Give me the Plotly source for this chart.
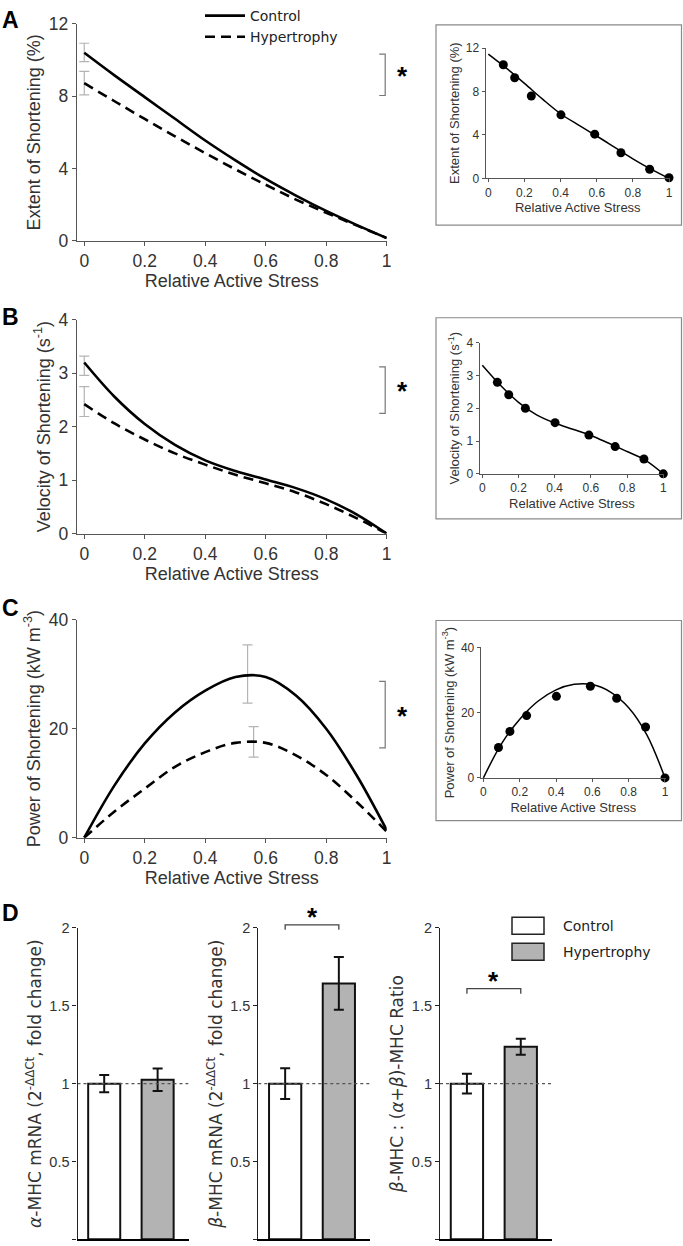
import plotly.graph_objects as go

W, H = 683, 1246

# ---------------- data ----------------
stress = [0.0, 0.1, 0.2, 0.3, 0.4, 0.5, 0.6, 0.7, 0.8, 0.9, 1.0]
extent_control = [10.40, 9.15, 7.95, 6.75, 5.55, 4.45, 3.42, 2.50, 1.65, 0.88, 0.15]
extent_hyper = [8.72, 7.72, 6.74, 5.78, 4.85, 3.95, 3.10, 2.28, 1.55, 0.85, 0.15]
velocity_control = [3.20, 2.56, 2.05, 1.66, 1.37, 1.17, 1.01, 0.85, 0.64, 0.36, 0.0]
velocity_hyper = [2.42, 2.06, 1.76, 1.50, 1.29, 1.10, 0.94, 0.77, 0.55, 0.29, 0.0]
power_control = [0.0, 9.6, 17.3, 23.0, 27.0, 29.5, 29.5, 26.1, 20.0, 11.5, 1.4]
power_hyper = [0.0, 4.8, 9.0, 13.0, 15.7, 17.4, 17.4, 15.1, 11.5, 6.6, 1.1]

# mean +/- SD markers on main panels (x position, mean, sd) : control, hypertrophy
extent_err_x = [0.0, 0.0]
extent_err_mean = [10.42, 8.72]
extent_err_sd = [0.51, 0.65]
velocity_err_x = [0.0, 0.0]
velocity_err_mean = [3.14, 2.47]
velocity_err_sd = [0.18, 0.28]
power_err_x = [0.54, 0.56]
power_err_mean = [30.05, 17.6]
power_err_sd = [5.35, 2.8]

# significance brackets (upper, lower) on main panels
extent_sig = [10.33, 8.04]
velocity_sig = [3.12, 2.25]
power_sig = [28.7, 16.5]

# insets: example data + fit
inset_stress = [0.083, 0.146, 0.238, 0.402, 0.589, 0.734, 0.893, 1.0]
inset_extent = [10.47, 9.27, 7.59, 5.85, 4.07, 2.36, 0.83, 0.05]
inset_velocity = [2.79, 2.41, 2.00, 1.56, 1.18, 0.83, 0.45, 0.0]
inset_power = [9.3, 14.25, 19.1, 25.0, 28.1, 24.4, 15.6, 0.0]
fit_extent = [11.45, 10.15, 8.75, 7.30, 5.95, 4.90, 3.90, 2.85, 1.80, 0.85, 0.0]
fit_velocity = [3.31, 2.70, 2.18, 1.80, 1.55, 1.36, 1.17, 0.93, 0.68, 0.42, 0.0]
fit_power = [0.0, 10.5, 18.0, 23.5, 27.0, 28.7, 28.6, 26.3, 21.5, 13.2, 0.0]

# panel D
groups = ["Control", "Hypertrophy"]
alpha_mhc = [1.0, 1.025]
alpha_mhc_err = [0.056, 0.072]
beta_mhc = [1.0, 1.644]
beta_mhc_err = [0.099, 0.170]
beta_ratio = [1.0, 1.237]
beta_ratio_err = [0.063, 0.052]
beta_sig = 2.02
ratio_sig = 1.61

x_ticks = [0, 0.2, 0.4, 0.6, 0.8, 1]
x_ticktext = ["0", "0.2", "0.4", "0.6", "0.8", "1"]

# ---------------- axes geometry (px boxes: left, right, top, bottom) ----------------
AX = {
    "1": dict(box=(76.7, 386.7, 19.0, 236.7), xr=[-0.025, 1.0], yr=[0, 12]),
    "2": dict(box=(76.7, 386.7, 316.0, 530.7), xr=[-0.025, 1.0], yr=[0, 4]),
    "3": dict(box=(76.7, 386.7, 617.3, 836.0), xr=[-0.025, 1.0], yr=[0, 40]),
    "4": dict(box=(485.6, 669.9, 43.3, 174.0), xr=[-0.015, 1.005], yr=[0, 12]),
    "5": dict(box=(479.6, 664.2, 339.0, 470.7), xr=[-0.015, 1.005], yr=[0, 4]),
    "6": dict(box=(480.7, 665.9, 645.0, 776.0), xr=[-0.015, 1.005], yr=[0, 40]),
    "7": dict(box=(77.5, 188.6, 926.7, 1239.3), xr=[0.5, 2.58], yr=[0, 2]),
    "8": dict(box=(258.3, 370.0, 926.7, 1239.3), xr=[0.5, 2.58], yr=[0, 2]),
    "9": dict(box=(440.0, 552.0, 926.7, 1239.3), xr=[0.5, 2.58], yr=[0, 2]),
}


def to_px(k, xv, yv):
    L, R, T, B = AX[k]["box"]
    x0, x1 = AX[k]["xr"]
    y0, y1 = AX[k]["yr"]
    return L + (xv - x0) / (x1 - x0) * (R - L), B - (yv - y0) / (y1 - y0) * (B - T)


def pp(x, y):
    return x / W, 1 - y / H


def ref(k):
    return ("x" if k == "1" else "x" + k), ("y" if k == "1" else "y" + k)


fig = go.Figure()

MAIN_FONT = "Liberation Sans, Arial, sans-serif"
LEG_FONT = "DejaVu Sans, Verdana, sans-serif"
TXT = "#333333"
GRAY_ERR = "#b4b4b4"
DASH = "10px,6px"

# ---------------- main panels ----------------
main = [
    ("1", extent_control, extent_hyper, extent_err_x, extent_err_mean, extent_err_sd),
    ("2", velocity_control, velocity_hyper, velocity_err_x, velocity_err_mean, velocity_err_sd),
    ("3", power_control, power_hyper, power_err_x, power_err_mean, power_err_sd),
]
for i, (k, yc, yh, ex, em, es) in enumerate(main):
    xa, ya = ref(k)
    fig.add_trace(go.Scatter(x=ex, y=em, mode="markers", marker=dict(size=0.1, color="rgba(0,0,0,0)"),
                             error_y=dict(type="data", array=es, color=GRAY_ERR, thickness=1.2, width=5),
                             xaxis=xa, yaxis=ya, showlegend=False, hoverinfo="skip", cliponaxis=False))
    fig.add_trace(go.Scatter(x=stress, y=yc, mode="lines", line=dict(color="black", width=2.6, shape="spline"),
                             name="Control", legendgroup="c", showlegend=(i == 0), xaxis=xa, yaxis=ya,
                             cliponaxis=False))
    fig.add_trace(go.Scatter(x=stress, y=yh, mode="lines",
                             line=dict(color="black", width=2.6, shape="spline", dash=DASH),
                             name="Hypertrophy", legendgroup="h", showlegend=(i == 0), xaxis=xa, yaxis=ya,
                             cliponaxis=False))

# ---------------- insets ----------------
insets = [("4", fit_extent, inset_extent), ("5", fit_velocity, inset_velocity), ("6", fit_power, inset_power)]
for k, fy, dy in insets:
    xa, ya = ref(k)
    fig.add_trace(go.Scatter(x=stress, y=fy, mode="lines", line=dict(color="black", width=1.5, shape="spline"),
                             xaxis=xa, yaxis=ya, showlegend=False, cliponaxis=False))
    fig.add_trace(go.Scatter(x=inset_stress, y=dy, mode="markers", marker=dict(color="black", size=9),
                             xaxis=xa, yaxis=ya, showlegend=False, cliponaxis=False))

# ---------------- panel D bars ----------------
bar_fill = ["white", "#b3b3b3"]
for k, vals, errs in [("7", alpha_mhc, alpha_mhc_err), ("8", beta_mhc, beta_mhc_err),
                      ("9", beta_ratio, beta_ratio_err)]:
    xa, ya = ref(k)
    x0, x1 = AX[k]["xr"]
    fig.add_trace(go.Scatter(x=[x0, x1], y=[1, 1], mode="lines", line=dict(color="#555555", width=1.2, dash="dot"),
                             xaxis=xa, yaxis=ya, showlegend=False, hoverinfo="skip"))
    fig.add_trace(go.Bar(x=[1, 2], y=vals, width=0.6,
                         marker=dict(color=bar_fill, line=dict(color="#111111", width=2)),
                         error_y=dict(type="data", array=errs, color="#111111", thickness=2, width=5),
                         xaxis=xa, yaxis=ya, showlegend=False, hovertext=groups))

# ---------------- axes layout ----------------
layout = dict(width=W, height=H, margin=dict(l=0, r=0, t=0, b=0), paper_bgcolor="white", plot_bgcolor="white",
              showlegend=True, barmode="overlay")

titles_y = {
    "1": "Extent of Shortening (%)",
    "2": "Velocity of Shortening (s<sup>-1</sup>)",
    "3": "Power of Shortening (kW m<sup>-3</sup>)",
    "4": "Extent of Shortening (%)",
    "5": "Velocity of Shortening (s<sup>-1</sup>)",
    "6": "Power of Shortening (kW m<sup>-3</sup>)",
    "7": "<i>α</i>-MHC mRNA (2<sup>-ΔΔCt</sup>, fold change)",
    "8": "<i>β</i>-MHC mRNA (2<sup>-ΔΔCt</sup>, fold change)",
    "9": "<i>β</i>-MHC : (<i>α</i>+<i>β</i>)-MHC Ratio",
}
yticks = {"1": [0, 4, 8, 12], "2": [0, 1, 2, 3, 4], "3": [0, 20, 40],
          "4": [0, 4, 8, 12], "5": [0, 1, 2, 3, 4], "6": [0, 20, 40],
          "7": [0, 0.5, 1, 1.5, 2], "8": [0, 0.5, 1, 1.5, 2], "9": [0, 0.5, 1, 1.5, 2]}

for k, a in AX.items():
    L, R, T, B = a["box"]
    xname = "xaxis" if k == "1" else "xaxis" + k
    yname = "yaxis" if k == "1" else "yaxis" + k
    xa, ya = ref(k)
    inset = k in ("4", "5", "6")
    bars = k in ("7", "8", "9")
    if inset:
        tick_fs, title_fs = 12, 13
    elif bars:
        tick_fs, title_fs = 14.5, 17
    else:
        tick_fs, title_fs = 17.5, 18
    lc = "#555555" if not bars else "#222222"
    xdict = dict(domain=[L / W, R / W], range=a["xr"], anchor=ya, showgrid=False, zeroline=False,
                 showline=True, linecolor=lc, linewidth=1, fixedrange=True, automargin=False)
    ydict = dict(domain=[1 - B / H, 1 - T / H], range=a["yr"], anchor=xa, showgrid=False, zeroline=False,
                 showline=True, linecolor=lc, linewidth=1, fixedrange=True, automargin=False,
                 tickvals=yticks[k], ticktext=[f"{v:g}" for v in yticks[k]],
                 ticks="outside", ticklen=3 if inset else 4, tickcolor=lc,
                 tickfont=dict(family=MAIN_FONT, size=tick_fs, color=TXT),
                 title=dict(text=titles_y[k], font=dict(family=MAIN_FONT if not bars else LEG_FONT,
                                                        size=title_fs, color=TXT),
                            standoff=3))
    if bars:
        xdict.update(showticklabels=False, ticks="", linecolor="black", linewidth=2)
        ydict.update(linewidth=1.2)
    else:
        xdict.update(tickvals=x_ticks, ticktext=x_ticktext, ticks="outside", ticklen=3 if inset else 4,
                     tickcolor=lc, tickfont=dict(family=MAIN_FONT, size=tick_fs, color=TXT),
                     title=dict(text="Relative Active Stress",
                                font=dict(family=MAIN_FONT, size=title_fs, color=TXT), standoff=4))
    layout[xname] = xdict
    layout[yname] = ydict

layout["legend"] = dict(x=200 / W, y=1 + 5 / H, xanchor="left", yanchor="top", bgcolor="rgba(0,0,0,0)",
                        font=dict(family=LEG_FONT, size=14, color="#222222"), itemwidth=40, tracegroupgap=0)

fig.update_layout(**layout)

# ---------------- shapes / annotations ----------------
shapes = []
annots = []

# inset frames
for k, pad in [("4", (436, 681.5, 20, 221)), ("5", (436, 681.5, 314, 516)), ("6", (436, 681.5, 618, 819))]:
    x0, y0 = pp(pad[0], pad[3])
    x1, y1 = pp(pad[1], pad[2])
    shapes.append(dict(type="rect", xref="paper", yref="paper", x0=x0, x1=x1, y0=y0, y1=y1,
                       line=dict(color="#8a8a8a", width=1.2), fillcolor="rgba(0,0,0,0)"))

# main significance brackets
for k, (hi, lo) in [("1", extent_sig), ("2", velocity_sig), ("3", power_sig)]:
    vx, vy_hi = to_px(k, 1.0, hi)
    _, vy_lo = to_px(k, 1.0, lo)
    vx -= 1.5
    pts = [(vx - 6, vy_hi), (vx, vy_hi), (vx, vy_lo), (vx - 6, vy_lo)]
    path = "M " + " L ".join(f"{pp(a, b)[0]:.5f},{pp(a, b)[1]:.5f}" for a, b in pts)
    shapes.append(dict(type="path", xref="paper", yref="paper", path=path, line=dict(color="#777777", width=1.2)))
    sx, sy = pp(vx + 17, (vy_hi + vy_lo) / 2 + 1)
    annots.append(dict(x=sx, y=sy, xref="paper", yref="paper", text="<b>*</b>", showarrow=False,
                       font=dict(family=MAIN_FONT, size=26, color="black"), xanchor="center", yanchor="middle"))

# panel D brackets
for k, lvl in [("8", beta_sig), ("9", ratio_sig)]:
    ax_, ay_ = to_px(k, 1, lvl)
    bx_, _ = to_px(k, 2, lvl)
    pts = [(ax_, ay_ + 5), (ax_, ay_), (bx_, ay_), (bx_, ay_ + 5)]
    path = "M " + " L ".join(f"{pp(a, b)[0]:.5f},{pp(a, b)[1]:.5f}" for a, b in pts)
    shapes.append(dict(type="path", xref="paper", yref="paper", path=path, line=dict(color="#444444", width=1.3)))
    sx, sy = pp((ax_ + bx_) / 2, ay_ - 8)
    annots.append(dict(x=sx, y=sy, xref="paper", yref="paper", text="<b>*</b>", showarrow=False,
                       font=dict(family=MAIN_FONT, size=26, color="black"), xanchor="center", yanchor="middle"))

# panel D legend (swatches)
for name, fill, ytop in [(groups[0], bar_fill[0], 916), (groups[1], bar_fill[1], 942)]:
    x0, y1 = pp(512, ytop)
    x1, y0 = pp(544, ytop + 17)
    shapes.append(dict(type="rect", xref="paper", yref="paper", x0=x0, x1=x1, y0=y0, y1=y1,
                       line=dict(color="#222222", width=1.5), fillcolor=fill))
    tx, ty = pp(561, ytop + 8.5)
    annots.append(dict(x=tx, y=ty, xref="paper", yref="paper", text=name, showarrow=False,
                       font=dict(family=LEG_FONT, size=14, color="#222222"), xanchor="left", yanchor="middle"))

# panel letters
for letter, (lx, ly) in zip("ABCD", [(0, 15), (0, 313), (0, 605), (0, 912)]):
    x, y = pp(lx, ly)
    annots.append(dict(x=x, y=y, xref="paper", yref="paper", text=f"<b>{letter}</b>", showarrow=False,
                       font=dict(family=MAIN_FONT, size=23, color="black"), xanchor="left", yanchor="middle"))

fig.update_layout(shapes=shapes, annotations=annots)
fig.write_html("out.html", config={"displayModeBar": False},
               post_script="document.body.style.margin='0';document.body.style.overflow='hidden';")
